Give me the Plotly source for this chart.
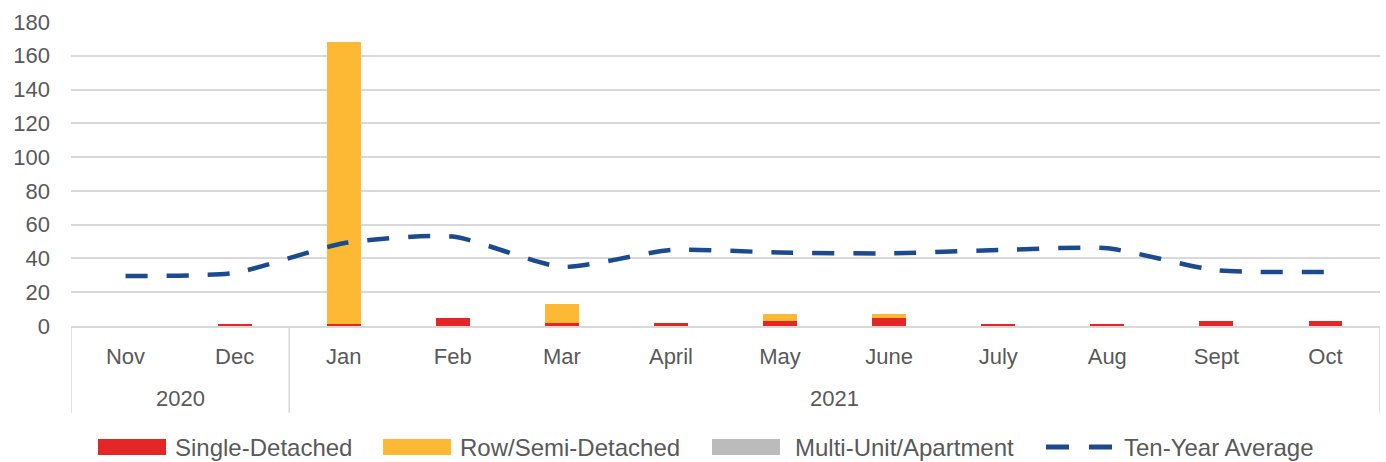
import plotly.graph_objects as go

years = ["2020", "2020"] + ["2021"] * 10
months = ["Nov", "Dec", "Jan", "Feb", "Mar", "April", "May", "June", "July", "Aug", "Sept", "Oct"]
single = [0, 1, 1, 5, 2, 2, 3, 5, 1, 1, 3, 3]
row = [0, 0, 167, 0, 11, 0, 4, 2, 0, 0, 0, 0]
multi = [0, 0, 0, 0, 0, 0, 0, 0, 0, 0, 0, 0]
ten_year = [29.6, 31.5, 49, 53, 35, 45, 43.5, 43, 45, 46, 33, 32]

series_names = ["Single-Detached", "Row/Semi-Detached", "Multi-Unit/Apartment", "Ten-Year Average"]
colors = ["#E32726", "#FDB933", "#BBBBBB", "#1C4A8F"]

W, H = 1386, 462
L, R, T, B = 71, 6, 22, 136
PW, PH = W - L - R, H - T - B

def px_x(p):
    return (p - L) / PW

def px_y(p):
    return (H - B - p) / PH

tick_font = dict(family="Liberation Sans, Arial, sans-serif", size=22, color="#595959")
leg_font = dict(family="Liberation Sans, Arial, sans-serif", size=24, color="#595959")

fig = go.Figure()
for vals, nm, col in zip([single, row, multi], series_names[:3], colors[:3]):
    fig.add_bar(x=months, y=[v if v else None for v in vals], name=nm, marker_color=col,
                marker_line_width=0, showlegend=False)
fig.add_scatter(x=months, y=ten_year, mode="lines", name=series_names[3],
                line=dict(color=colors[3], width=4.5, dash="22px,19px", shape="spline", smoothing=0.6),
                showlegend=False)

shapes = []
annotations = []
# group dividers and year labels (multi-level category axis)
groups = []
for i, yr in enumerate(years):
    if not groups or groups[-1][0] != yr:
        groups.append([yr, i, i])
    else:
        groups[-1][2] = i
bounds = sorted({g[1] - 0.5 for g in groups} | {g[2] + 0.5 for g in groups})
for b in bounds:
    shapes.append(dict(type="line", xref="x", yref="paper", x0=b, x1=b, y0=0, y1=-0.285,
                       line=dict(color="#D9D9D9", width=1.5)))
for yr, i0, i1 in groups:
    annotations.append(dict(x=(i0 + i1) / 2, xref="x", y=px_y(398), yref="paper", text=yr,
                            showarrow=False, font=tick_font, xanchor="center", yanchor="middle"))

# legend (drawn manually to mimic wide swatches)
leg_y = 447
leg_layout = [(98, 166, 173), (383, 451, 458), (712, 780, 793), (1046, 1112, 1122)]
for k, (nm, col) in enumerate(zip(series_names, colors)):
    x0, x1, xt = leg_layout[k]
    if k < 3:
        shapes.append(dict(type="rect", xref="paper", yref="paper",
                           x0=px_x(x0), x1=px_x(x1), y0=px_y(leg_y + 8), y1=px_y(leg_y - 8),
                           fillcolor=col, line=dict(width=0)))
    else:
        shapes.append(dict(type="line", xref="paper", yref="paper",
                           x0=px_x(x0), x1=px_x(x1), y0=px_y(leg_y), y1=px_y(leg_y),
                           line=dict(color=col, width=5, dash="23px,20px")))
    annotations.append(dict(x=px_x(xt), xref="paper", y=px_y(leg_y), yref="paper", text=nm,
                            showarrow=False, font=leg_font, xanchor="left", yanchor="middle"))

fig.update_layout(
    barmode="stack",
    bargap=0.69,
    width=W, height=H,
    margin=dict(l=L, r=R, t=T, b=B, autoexpand=False),
    paper_bgcolor="white", plot_bgcolor="white",
    font=tick_font,
    showlegend=False,
    shapes=shapes,
    annotations=annotations,
    xaxis=dict(type="category", showline=True, linecolor="#D9D9D9", linewidth=1.5,
               tickfont=tick_font, ticks="", ticklabelstandoff=10, automargin=False,
               range=[-0.5, len(months) - 0.5]),
    yaxis=dict(range=[0, 180], dtick=20, showgrid=True, gridcolor="#D9D9D9", gridwidth=1.5,
               zeroline=False, tickfont=tick_font, ticks="", ticklabelstandoff=20,
               automargin=False),
)
fig.write_html("out.html", config={"displayModeBar": False},
               post_script="document.body.style.margin='0';document.body.style.overflow='hidden';")
